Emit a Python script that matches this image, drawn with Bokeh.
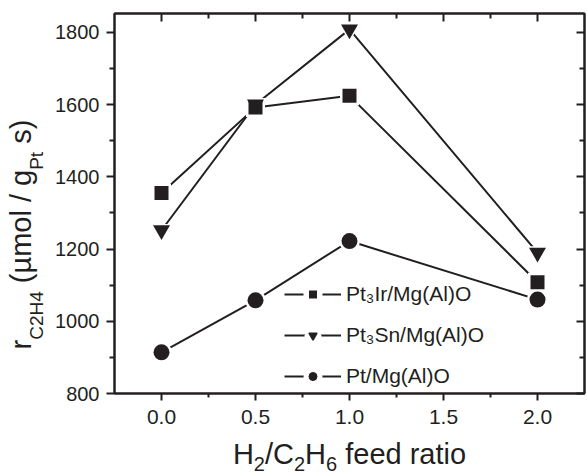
import math
from bokeh.plotting import figure
from bokeh.layouts import row, column
from bokeh.models import Range1d, LinearAxis, FixedTicker, Label, Legend, LegendItem
from bokeh.core.properties import value
from bokeh.embed import file_html
from bokeh.resources import INLINE

# ---------------- data ----------------
feed_ratio = [0.0, 0.5, 1.0, 2.0]
pt3ir = [1355, 1592, 1624, 1108]
pt3sn = [1252, 1600, 1808, 1190]
pt_only = [914, 1058, 1222, 1060]
series_names = ["Pt\u2083Ir/Mg(Al)O", "Pt\u2083Sn/Mg(Al)O", "Pt/Mg(Al)O"]
x_major = [0.0, 0.5, 1.0, 1.5, 2.0]
x_tick_labels = ["0.0", "0.5", "1.0", "1.5", "2.0"]
x_minor = [0.25, 0.75, 1.25, 1.75]
y_major = [800, 1000, 1200, 1400, 1600, 1800]
y_tick_labels = ["800", "1000", "1200", "1400", "1600", "1800"]
y_minor = [900, 1100, 1300, 1500, 1700]
x_title = [("H", False), ("2", True), ("/C", False), ("2", True), ("H", False), ("6", True), (" feed ratio", False)]
y_title = [("r", False), ("C2H4", True), (" (\u00b5mol / g", False), ("Pt", True), (" s)", False)]

# ---------------- style ----------------
INK = "#231f20"
FONT = "Liberation Sans"

p = figure(width=537, height=436,
           x_range=Range1d(-0.25, 2.25), y_range=Range1d(800, 1852),
           output_backend="svg", toolbar_location=None,
           min_border_left=64, min_border_right=3, min_border_top=13, min_border_bottom=43)
p.xgrid.grid_line_color = None
p.ygrid.grid_line_color = None
p.outline_line_color = INK
p.outline_line_width = 2
p.background_fill_color = "white"
p.border_fill_color = "white"


def style_axis(ax, ticks, minor, labels, tin, tout, min_in, min_out, standoff, font_px="20px"):
    ax.ticker = FixedTicker(ticks=ticks, minor_ticks=minor)
    ax.axis_line_color = INK
    ax.axis_line_width = 2
    ax.major_tick_line_color = INK
    ax.major_tick_line_width = 2
    ax.minor_tick_line_color = INK
    ax.minor_tick_line_width = 2
    ax.major_tick_in = tin
    ax.major_tick_out = tout
    ax.minor_tick_in = min_in
    ax.minor_tick_out = min_out
    ax.major_label_standoff = standoff
    if labels is None:
        ax.major_label_text_font_size = "0px"
        ax.major_label_text_alpha = 0
    else:
        ax.major_label_overrides = {t: l for t, l in zip(ticks, labels)}
        ax.major_label_text_font = FONT
        ax.major_label_text_font_size = font_px
        ax.major_label_text_color = INK


style_axis(p.xaxis[0], x_major, x_minor, x_tick_labels, 0, 7, 0, 4, 9, "21px")
style_axis(p.yaxis[0], y_major, y_minor, y_tick_labels, 0, 8, 0, 5, 7, "20px")
top_ax = LinearAxis()
right_ax = LinearAxis()
style_axis(top_ax, x_major, x_minor, None, 8, 0, 5, 0, 0)
style_axis(right_ax, y_major, y_minor, None, 8, 0, 5, 0, 0)
p.add_layout(top_ax, "above")
p.add_layout(right_ax, "right")

# ---------------- data marks ----------------
all_series = [pt3ir, pt3sn, pt_only]
markers = ["square", "inverted_triangle", "circle"]
sizes = [14, 17, 16]
leg_black_lw = [0, 1.5, 1]

line_rs = []
for vals in all_series:
    line_rs.append(p.line(feed_ratio, vals, line_color=INK, line_width=2))
for vals, m, s in zip(all_series, markers, sizes):
    p.scatter(feed_ratio, vals, marker=m, size=s + 5, fill_color="white", line_color=None)
for vals, m, s in zip(all_series, markers, sizes):
    p.scatter(feed_ratio, vals, marker=m, size=s, fill_color=INK, line_color=None)

# ---------------- legend ----------------
items = []
for name, lr, m, lw in zip(series_names, line_rs, markers, leg_black_lw):
    halo = p.scatter(x=[math.nan], y=[math.nan], marker=m, size=8, fill_color="white",
                     line_color="white", line_width=11)
    blk = p.scatter(x=[math.nan], y=[math.nan], marker=m, size=8, fill_color=INK, line_color=INK,
                    line_width=lw if lw > 0 else 1, line_alpha=1 if lw > 0 else 0)
    items.append(LegendItem(label=value(name), renderers=[lr, halo, blk]))
legend = Legend(items=items, location=(170, 5), glyph_width=57, glyph_height=20,
                label_standoff=5, spacing=17, padding=0, margin=0,
                border_line_alpha=0, background_fill_alpha=0,
                label_text_font=FONT, label_text_font_size="21px", label_text_color=INK)
p.add_layout(legend)

# ---------------- axis titles (separate title strips, with subscripts) ----------------
ARIAL_W = {"H": .722, "2": .556, "/": .278, "C": .722, "6": .556, " ": .278, "f": .278,
           "e": .556, "d": .556, "r": .333, "a": .556, "t": .278, "i": .222, "o": .556,
           "4": .556, "(": .333, "\u00b5": .576, "m": .833, "l": .222, "g": .556,
           "P": .667, "s": .5, ")": .333}
BASE_SHIFT = 0.38  # label anchor sits this fraction of the font size above the baseline


def strip(w, h):
    f = figure(width=w, height=h, x_range=Range1d(0, 1), y_range=Range1d(0, 1),
               output_backend="svg", toolbar_location=None,
               x_axis_location=None, y_axis_location=None, min_border=0)
    f.xgrid.grid_line_color = None
    f.ygrid.grid_line_color = None
    f.outline_line_color = None
    f.background_fill_color = "white"
    f.border_fill_color = "white"
    return f


def text_w(txt, px):
    return sum(ARIAL_W.get(c, .556) for c in txt) * px


def place(fig, parts, start, base_main, base_sub, main_px, sub_px, vertical):
    pos = start
    for txt, sub in parts:
        px = sub_px if sub else main_px
        base = base_sub if sub else base_main
        stripped = txt.lstrip(" ")
        pos += text_w(txt[:len(txt) - len(stripped)], px)
        kw = dict(text=stripped, x_units="screen", y_units="screen", text_font=FONT,
                  text_font_size=f"{px}px", text_color=INK, text_align="left",
                  text_baseline="alphabetic")
        if vertical:
            lab = Label(x=base - BASE_SHIFT * px, y=pos, angle=math.pi / 2, **kw)
        else:
            lab = Label(x=pos, y=base + BASE_SHIFT * px, **kw)
        fig.add_layout(lab)
        pos += text_w(stripped, px)


yfig = strip(50, 476)
xfig = strip(473, 40)   # its frame is aligned with the plot frame (starts at the frame's left edge)

X_MAIN, X_SUB = 29, 20
xw = sum(text_w(t, X_SUB if s else X_MAIN) for t, s in x_title)
place(xfig, x_title, 235 - xw / 2, 11, 4.5, X_MAIN, X_SUB, False)
place(yfig, y_title, 127, 32, 43, 29, 19, True)

layout = row(yfig, column(p, xfig, spacing=0), spacing=0)

open("out.html", "w").write(file_html(layout, INLINE))
